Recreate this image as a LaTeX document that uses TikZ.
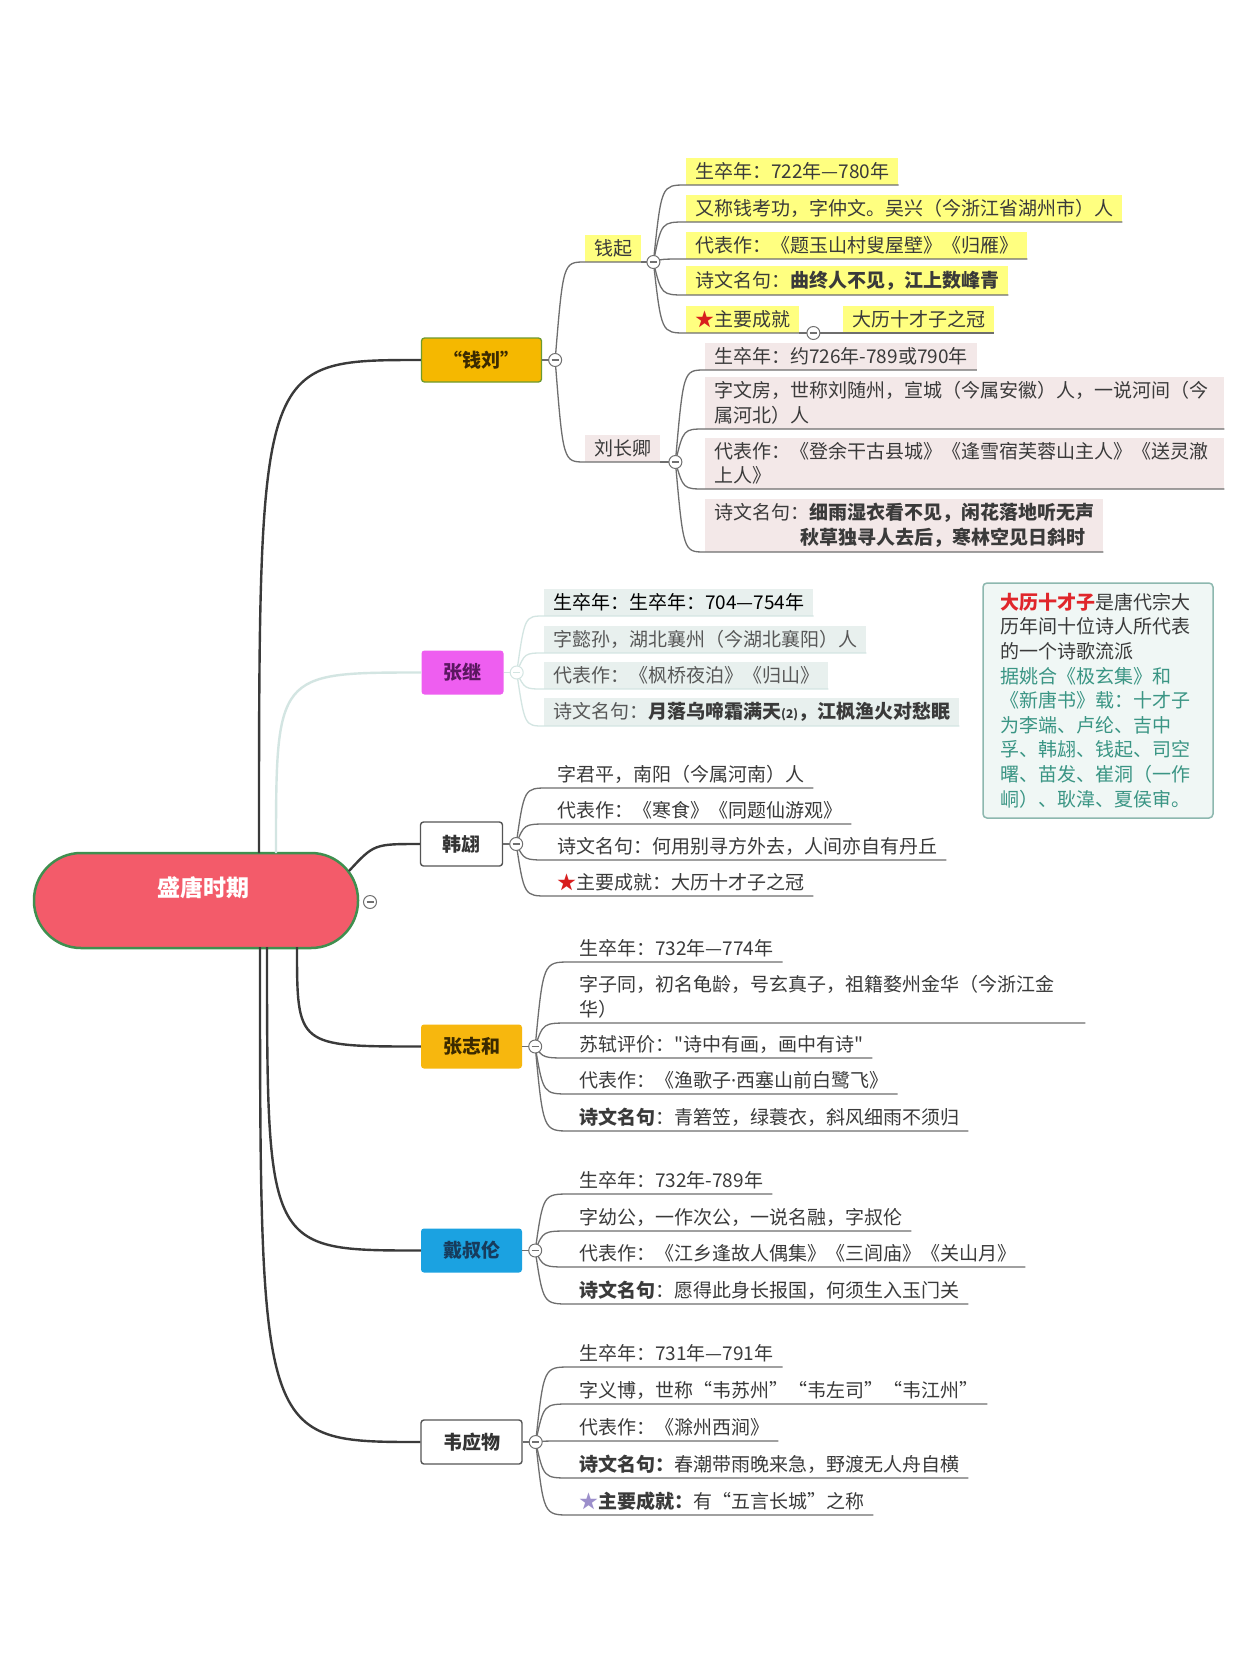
\documentclass[tikz,border=0pt]{standalone}
\usepackage{fontspec}
\setmainfont{Noto Sans CJK SC}[Ligatures=TeXOff]
\newfontfamily\latinfont{Noto Sans}
\usepackage{tikz}
\usetikzlibrary{calc, positioning, backgrounds}
\definecolor{rootred}{HTML}{F35B6A}
\definecolor{rootgreen}{HTML}{3F8F4F}
\definecolor{qlgold}{HTML}{F5B800}
\definecolor{qlgreen}{HTML}{6E9A2E}
\definecolor{qltext}{HTML}{3B2A00}
\definecolor{zjpink}{HTML}{EE5EF0}
\definecolor{zjtext}{HTML}{5A1760}
\definecolor{zzhgold}{HTML}{F7B70E}
\definecolor{dslblue}{HTML}{1BA2E1}
\definecolor{dsltext}{HTML}{173B5C}
\definecolor{boxgray}{HTML}{555555}
\definecolor{textdark}{HTML}{333333}
\definecolor{textgray}{HTML}{3A3A3A}
\definecolor{leafyellow}{HTML}{FFFF80}
\definecolor{leafpink}{HTML}{F3E8E8}
\definecolor{leafmint}{HTML}{E8F0EE}
\definecolor{linedark}{HTML}{3A3A3A}
\definecolor{linegray}{HTML}{6E6E6E}
\definecolor{lightline}{HTML}{D3E5E2}
\definecolor{foldgray}{HTML}{707070}
\definecolor{notefill}{HTML}{F0F7F5}
\definecolor{noteborder}{HTML}{8DB8AF}
\definecolor{notered}{HTML}{E0262B}
\definecolor{noteteal}{HTML}{3A9584}
\definecolor{starred}{HTML}{D81E1E}
\definecolor{starpurple}{HTML}{9C8FCB}
\tikzset{
  % central topic
  root/.style={
    draw=rootgreen, fill=rootred, rounded corners=47pt,
    minimum width=324pt, minimum height=95pt, line width=2.5pt,
  },
  rootlabel/.style={font=\fontsize{23}{26}\selectfont\bfseries, text=white},
  % main topics
  topic/.style={
    fill=#1, rounded corners=3pt, minimum height=44pt,
    inner xsep=22pt, font=\fontsize{19}{24}\selectfont\bfseries,
    text=textdark,
  },
  % leaves, sitting on their underline
  leaf/.style={
    fill=#1, anchor=south west, align=left,
    inner xsep=9pt, inner ysep=4.5pt,
    font=\fontsize{19}{24.5}\selectfont, text=textgray,
  },
  leaf/.default=none,
  note/.style={
    draw=noteborder, fill=notefill, rounded corners=4pt, line width=1.5pt,
    minimum width=230pt, minimum height=235pt, text width=196pt,
    inner xsep=17pt, align=left, text=textgray,
    font=\fontsize{19}{24.6}\selectfont,
  },
  % connectors
  bough/.style={line width=2.4pt, draw=linedark},
  twig/.style={line width=1.3pt, draw=linegray},
  fold/.style={
    circle, draw=#1, fill=white, minimum size=13pt, inner sep=0pt,
    line width=1pt,
    path picture={\draw[#1, line width=1.2pt]
      ($(path picture bounding box.center)+(-3.5pt,0)$) --
      ($(path picture bounding box.center)+(3.5pt,0)$);},
  },
  fold/.default=foldgray,
}
\begin{document}
\begin{tikzpicture}[x=1pt, y=-1pt]
  \useasboundingbox (0,0) rectangle (1242,1660);
  \fill[white] (0,0) rectangle (1242,1660);

  % central topic
  \node[root] (root) at (196,900.5) {};
  \node[rootlabel] (root-t) at (203,888) {盛唐时期};

  % main topics
  \node[topic=qlgold, draw=qlgreen, line width=1.3pt, text=qltext] (qianliu) at (481.5,360) {“钱刘”};
  \node[topic=zjpink, text=zjtext] (zhangji) at (462.5,672.5) {张继};
  \node[topic=white, draw=boxgray, line width=1.4pt] (hanhong) at (461.5,844) {韩翃};
  \node[topic=zzhgold, text=qltext] (zhangzhihe) at (471.5,1046.5) {张志和};
  \node[topic=dslblue, text=dsltext] (daishulun) at (471.5,1250.5) {戴叔伦};
  \node[topic=white, draw=boxgray, line width=1.4pt] (weiyingwu) at (471.5,1442) {韦应物};

  % fold points
  \coordinate (root-c) at (370,902);
  \coordinate (ql-c) at ($(qianliu.east)+(13,0)$);
  \coordinate (zj-c) at ($(zhangji.east)+(13,0)$);
  \coordinate (hh-c) at ($(hanhong.east)+(13,0)$);
  \coordinate (zzh-c) at ($(zhangzhihe.east)+(13,0)$);
  \coordinate (dsl-c) at ($(daishulun.east)+(13,0)$);
  \coordinate (wyw-c) at ($(weiyingwu.east)+(13,0)$);

  % 钱刘
  \node[leaf=leafyellow] (qianqi) at (585,262) {钱起};
  \node[leaf=leafpink] (liuchangqing) at (585,462) {刘长卿};
  \coordinate (qq-c) at ($(qianqi.south east)+(12,0)$);
  \coordinate (lcq-c) at ($(liuchangqing.south east)+(15,0)$);

  % 钱起
  \node[leaf=leafyellow] (q1) at (686,185) {生卒年：722年—780年};
  \node[leaf=leafyellow] (q2) at (686,222) {又称钱考功，字仲文。吴兴（今浙江省湖州市）人};
  \node[leaf=leafyellow] (q3) at (686,259) {代表作：《题玉山村叟屋壁》《归雁》};
  \node[leaf=leafyellow] (q4) at (686,295) {诗文名句：{\bfseries 曲终人不见，江上数峰青}};
  \node[leaf=leafyellow] (q5) at (686,333) {{\color{starred}★}主要成就};
  \coordinate (q5-c) at ($(q5.south east)+(14,0)$);
  \node[leaf=leafyellow] (q6) at (843,333) {大历十才子之冠};

  % 刘长卿
  \node[leaf=leafpink] (l1) at (705,370) {生卒年：约726年-789或790年};
  \node[leaf=leafpink, text width=501pt] (l2) at (705,429)
    {字文房，世称刘随州，宣城（今属安徽）人，一说河间（今\\属河北）人};
  \node[leaf=leafpink, text width=501pt] (l3) at (705,489)
    {代表作：《登余干古县城》《逢雪宿芙蓉山主人》《送灵澈\\上人》};
  \node[leaf=leafpink] (l4) at (705,552)
    {诗文名句：{\bfseries 细雨湿衣看不见，闲花落地听无声}\\
     \hspace*{4.55em}{\bfseries 秋草独寻人去后，寒林空见日斜时}};

  % 张继
  \node[leaf=leafmint, text=black] (j1) at (544,616) {生卒年：生卒年：704—754年};
  \node[leaf=leafmint, text=textgray!85] (j2) at (544,653) {字懿孙，湖北襄州（今湖北襄阳）人};
  \node[leaf=leafmint, text=textgray!85] (j3) at (544,689) {代表作：《枫桥夜泊》《归山》};
  \node[leaf=leafmint, text=textgray!85] (j4) at (544,726)
    {诗文名句：{\bfseries\color{textgray}月落乌啼霜满天{\fontsize{12}{12}\selectfont(2)}，江枫渔火对愁眠}};

  % 大历十才子
  \node[note] (shicaizi) at (1098,700.5)
    {{\color{notered}\bfseries 大历十才子}是唐代宗大\\历年间十位诗人所代表\\的一个诗歌流派\\
     \color{noteteal}据姚合《极玄集》和\\《新唐书》载：十才子\\为李端、卢纶、吉中\\孚、韩翃、钱起、司空\\曙、苗发、崔洞（一作\\峒）、耿湋、夏侯审。};

  % 韩翃
  \node[leaf] (h1) at (548,788) {字君平，南阳（今属河南）人};
  \node[leaf] (h2) at (548,824) {代表作：《寒食》《同题仙游观》};
  \node[leaf] (h3) at (548,860) {诗文名句：何用别寻方外去，人间亦自有丹丘};
  \node[leaf] (h4) at (548,896) {{\color{starred}★}主要成就：大历十才子之冠};

  % 张志和
  \node[leaf] (z1) at (570,962) {生卒年：732年—774年};
  \node[leaf, text width=497pt] (z2) at (570,1023)
    {字子同，初名龟龄，号玄真子，祖籍婺州金华（今浙江金\\华）};
  \node[leaf] (z3) at (570,1058) {苏轼评价："诗中有画，画中有诗"};
  \node[leaf] (z4) at (570,1094) {代表作：《渔歌子{\latinfont ·}西塞山前白鹭飞》};
  \node[leaf] (z5) at (570,1131) {{\bfseries 诗文名句}：青箬笠，绿蓑衣，斜风细雨不须归};

  % 戴叔伦
  \node[leaf] (d1) at (570,1194) {生卒年：732年-789年};
  \node[leaf] (d2) at (570,1231) {字幼公，一作次公，一说名融，字叔伦};
  \node[leaf] (d3) at (570,1267) {代表作：《江乡逢故人偶集》《三闾庙》《关山月》};
  \node[leaf] (d4) at (570,1304) {{\bfseries 诗文名句}：愿得此身长报国，何须生入玉门关};

  % 韦应物
  \node[leaf] (w1) at (570,1367) {生卒年：731年—791年};
  \node[leaf] (w2) at (570,1404) {字义博，世称“韦苏州”“韦左司”“韦江州”};
  \node[leaf] (w3) at (570,1441) {代表作：《滁州西涧》};
  \node[leaf] (w4) at (570,1478) {{\bfseries 诗文名句：}春潮带雨晚来急，野渡无人舟自横};
  \node[leaf] (w5) at (570,1515) {{\color{starpurple}★}{\bfseries 主要成就：}有“五言长城”之称};

  % main branches
  \coordinate (r1) at (259,853);
  \coordinate (r2) at (276,853);
  \coordinate (r3) at (349,871);
  \coordinate (r4) at (297,947);
  \coordinate (r5) at (267,947);
  \coordinate (r6) at (260,947);
  \draw[bough] (r1) .. controls (r1 |- qianliu.west) .. (qianliu.west);
  \draw[bough, draw=lightline] (r2) .. controls (r2 |- zhangji.west) .. (zhangji.west);
  \draw[bough] (r3) .. controls ($(r3 |- hanhong.west)+(25,0)$) .. (hanhong.west);
  \draw[bough] (r4) .. controls (r4 |- zhangzhihe.west) .. (zhangzhihe.west);
  \draw[bough] (r5) .. controls (r5 |- daishulun.west) .. (daishulun.west);
  \draw[bough] (r6) .. controls (r6 |- weiyingwu.west) .. (weiyingwu.west);

  % stubs to the fold points
  \draw[twig] (qianliu.east) -- (ql-c);
  \draw[twig, draw=lightline] (zhangji.east) -- (zj-c);
  \draw[twig] (hanhong.east) -- (hh-c);
  \draw[twig] (zhangzhihe.east) -- (zzh-c);
  \draw[twig] (daishulun.east) -- (dsl-c);
  \draw[twig] (weiyingwu.east) -- (wyw-c);

  % leaf connectors with underlines
  \foreach \n in {qianqi,liuchangqing}
    \draw[twig] (ql-c) .. controls ($(ql-c |- \n.south west)+(8,0)$) .. (\n.south west) -- (\n.south east);
  \draw[twig] (qianqi.south east) -- (qq-c);
  \draw[twig] (liuchangqing.south east) -- (lcq-c);
  \foreach \n in {q1,q2,q3,q4,q5}
    \draw[twig] (qq-c) .. controls ($(qq-c |- \n.south west)+(8,0)$) .. (\n.south west) -- (\n.south east);
  \draw[twig] (q5.south east) -- (q5-c) -- (q6.south west) -- (q6.south east);
  \foreach \n in {l1,l2,l3,l4}
    \draw[twig] (lcq-c) .. controls ($(lcq-c |- \n.south west)+(8,0)$) .. (\n.south west) -- (\n.south east);
  \foreach \n in {j1,j2,j3,j4}
    \draw[twig, draw=lightline] (zj-c) .. controls ($(zj-c |- \n.south west)+(8,0)$) .. (\n.south west) -- (\n.south east);
  \foreach \n in {h1,h2,h3,h4}
    \draw[twig] (hh-c) .. controls ($(hh-c |- \n.south west)+(8,0)$) .. (\n.south west) -- (\n.south east);
  \foreach \n in {z1,z2,z3,z4,z5}
    \draw[twig] (zzh-c) .. controls ($(zzh-c |- \n.south west)+(8,0)$) .. (\n.south west) -- (\n.south east);
  \foreach \n in {d1,d2,d3,d4}
    \draw[twig] (dsl-c) .. controls ($(dsl-c |- \n.south west)+(8,0)$) .. (\n.south west) -- (\n.south east);
  \foreach \n in {w1,w2,w3,w4,w5}
    \draw[twig] (wyw-c) .. controls ($(wyw-c |- \n.south west)+(8,0)$) .. (\n.south west) -- (\n.south east);

  % fold markers on top
  \foreach \c in {root-c,ql-c,hh-c,zzh-c,dsl-c,wyw-c,qq-c,lcq-c,q5-c}
    \node[fold] (\c-f) at (\c) {};
  \node[fold=lightline] (zj-c-f) at (zj-c) {};
\end{tikzpicture}
\end{document}
